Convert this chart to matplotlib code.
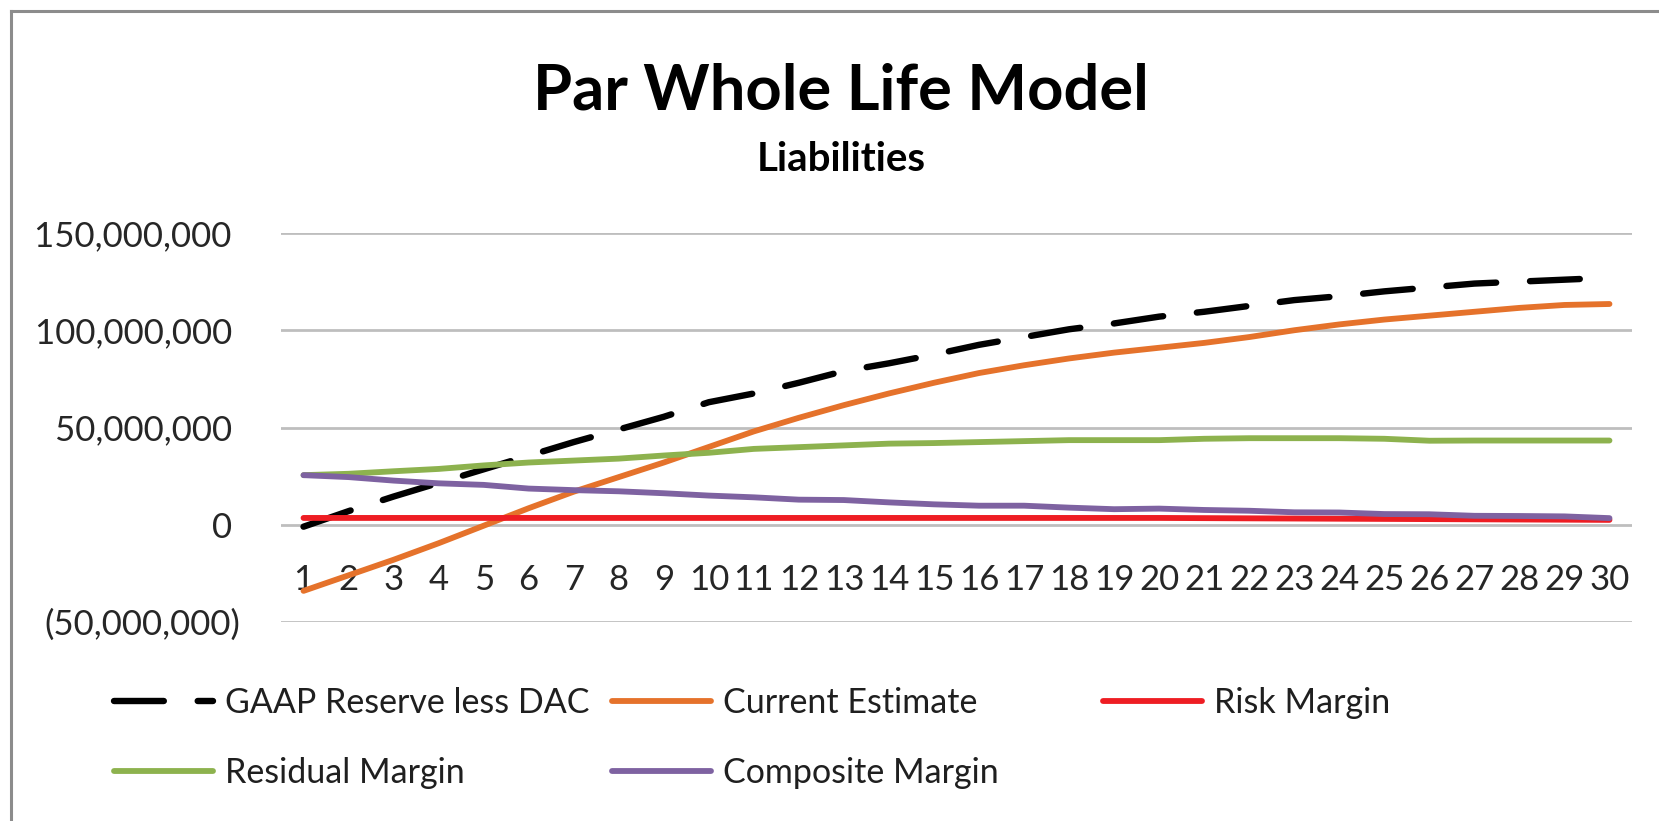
import matplotlib
matplotlib.use("Agg")
import matplotlib.pyplot as plt
from matplotlib.lines import Line2D
from matplotlib.ticker import FixedLocator

plt.rcParams['font.family'] = ['Lato', 'DejaVu Sans']

years = list(range(1, 31))
gaap = [-1, 7, 14.5, 21.5, 28.5, 35.5, 42.5, 49, 55.5, 63, 67.5, 73, 79, 83, 87.5,
        92.5, 96.5, 100.5, 103.5, 107, 109.5, 112.5, 115.5, 117.5, 120, 122, 124, 125, 126, 127]
current = [-34, -26, -18, -9.5, -0.5, 8.5, 17, 24.5, 32, 40, 48, 55, 61.5, 67.5, 73,
           78, 82, 85.5, 88.5, 91, 93.5, 96.5, 100, 103, 105.5, 107.5, 109.5, 111.5, 113, 113.5]
risk = [3.5] * 20 + [3.4, 3.3, 3.2, 3.1, 3.0, 2.9, 2.8, 2.7, 2.6, 2.5]
residual = [25.5, 26.2, 27.5, 28.7, 30.5, 32, 33, 34, 35.6, 37, 39, 39.9, 40.8, 41.7, 42,
            42.5, 43, 43.5, 43.5, 43.5, 44.2, 44.5, 44.5, 44.5, 44.2, 43.2, 43.3, 43.3, 43.3, 43.3]
composite = [25.5, 24.5, 22.7, 21.3, 20.5, 18.6, 17.8, 17.2, 16.2, 15, 14.1, 12.9, 12.7, 11.5, 10.5,
             9.8, 9.8, 8.8, 8, 8.3, 7.6, 7.2, 6.4, 6.3, 5.5, 5.4, 4.6, 4.5, 4.3, 3.4]
scale = 1e6
labels = ["GAAP Reserve less DAC", "Current Estimate", "Risk Margin", "Residual Margin", "Composite Margin"]
colors = ["#000000", "#E5722B", "#EE1D23", "#8DB24E", "#7E62A1"]
yticks = [-50e6, 0, 50e6, 100e6, 150e6]

W, H = 1659, 821
fig = plt.figure(figsize=(W / 100, H / 100), dpi=100)
ax = fig.add_axes([281 / W, 1 - 622 / H, (1632 - 281) / W, (622 - 233) / H])

series = [gaap, current, risk, residual, composite]
lines = []
for i, (vals, lab, col) in enumerate(zip(series, labels, colors)):
    y = [v * scale for v in vals]
    if i == 0:
        ln, = ax.plot(years, y, color=col, lw=4.6, label=lab, dashes=(7.8, 5.3),
                      dash_capstyle='round', solid_capstyle='round', zorder=3)
    else:
        ln, = ax.plot(years, y, color=col, lw=4.2, label=lab,
                      solid_capstyle='round', zorder=3)
    lines.append(ln)

ax.set_xlim(0.5, 30.5)
ax.set_ylim(-50e6, 150e6)
ax.yaxis.set_major_locator(FixedLocator(yticks))

def fmt(v):
    if v < 0:
        return "({:,.0f})".format(-v)
    return "{:,.0f}".format(v) + " "

ax.set_yticklabels([fmt(v) for v in yticks])
ax.set_xticks(years)
ax.set_xticklabels([str(y) for y in years])
ax.grid(axis='y', color='#BEBEBE', lw=2.0, zorder=0)
ax.grid(axis='x', visible=False)
for s in ['top', 'right', 'left']:
    ax.spines[s].set_visible(False)
ax.spines['bottom'].set_position(('data', 0))
ax.spines['bottom'].set_color('none')
ax.tick_params(axis='both', length=0, labelsize=25, labelcolor='#262626')
ax.tick_params(axis='x', pad=28)
ax.tick_params(axis='y', pad=29)
ax.set_facecolor('none')

cx = 841 / W
fig.text(cx, 1 - 109 / H, "Par Whole Life Model", ha='center', va='baseline',
         fontsize=45.5, fontweight='bold', color='#000000')
fig.text(cx, 1 - 171 / H, "Liabilities", ha='center', va='baseline',
         fontsize=29, fontweight='bold', color='#000000')

legend_cols = [([0, 3], 114), ([1, 4], 612), ([2], 1103)]
for idx, xpix in legend_cols:
    fig.legend([lines[i] for i in idx], [labels[i] for i in idx],
               loc='upper left', bbox_to_anchor=(xpix / W, 1 - 687 / H),
               frameon=False, fontsize=24.5, handlelength=2.9, handletextpad=0.35,
               labelspacing=1.12, borderpad=0, borderaxespad=0, labelcolor='#1f1f1f')

# chart border (left and top edges)
fig.add_artist(Line2D([11 / W, 11 / W], [0, 1 - 11 / H], color='#8C8C8C', lw=2.2,
                      transform=fig.transFigure))
fig.add_artist(Line2D([11 / W, 1], [1 - 11 / H, 1 - 11 / H], color='#8C8C8C', lw=2.2,
                      transform=fig.transFigure))

fig.savefig("out.png", dpi=100)
